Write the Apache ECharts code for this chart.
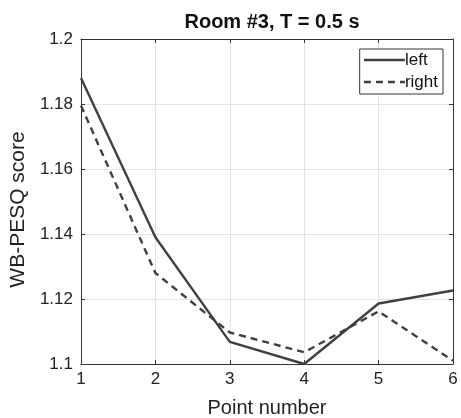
<!DOCTYPE html>
<html>
<head>
<meta charset="utf-8">
<script src="https://cdn.jsdelivr.net/npm/echarts@6/dist/echarts.min.js"></script>
<style>
  html, body { margin: 0; padding: 0; background: #fff; }
  #chart { width: 461px; height: 418px; }
</style>
</head>
<body>
<div id="chart"></div>
<script>
// WB-PESQ scores at each measurement point, room #3
const points = [1, 2, 3, 4, 5, 6];
const leftScores = [1.188, 1.139, 1.1068, 1.1, 1.1186, 1.1226];
const rightScores = [1.1795, 1.128, 1.1097, 1.1036, 1.1162, 1.101];
const seriesNames = ['left', 'right'];

const font = 'Liberation Sans, Arial, sans-serif';
const lineColor = '#404040';
const fmt = v => String(parseFloat(v.toFixed(2)));

const chart = echarts.init(document.getElementById('chart'));
chart.setOption({
  animation: false,
  backgroundColor: '#fff',
  title: {
    text: 'Room #3, T = 0.5 s',
    left: 267, top: 7, textAlign: 'center',
    textStyle: { fontFamily: font, fontSize: 20, fontWeight: 'bold', color: '#111' }
  },
  legend: {
    right: 18, top: 49, orient: 'vertical',
    itemWidth: 41, itemHeight: 20, itemGap: 2,
    padding: [1, 5, 2, 3],
    borderColor: '#333', borderWidth: 1, backgroundColor: '#fff',
    itemStyle: { opacity: 0 },
    lineStyle: { width: 2.5 },
    textStyle: { fontFamily: font, fontSize: 17, color: '#111', lineHeight: 20, padding: [0, 0, 0, -5] },
    data: seriesNames
  },
  grid: { left: 81, right: 8, top: 39, bottom: 54, outerBoundsMode: 'none', containLabel: false },
  xAxis: [{
    type: 'value', min: 1, max: 6, interval: 1,
    name: 'Point number', nameLocation: 'middle', nameGap: 34,
    nameTextStyle: { fontFamily: font, fontSize: 20, color: '#222' },
    axisLine: { lineStyle: { color: '#333' } },
    axisTick: { inside: true, length: 4, lineStyle: { color: '#333' } },
    axisLabel: { fontFamily: font, fontSize: 17, color: '#222', margin: 7 },
    splitLine: { lineStyle: { color: '#e3e3e3' } }
  }, {
    type: 'value', min: 1, max: 6, interval: 1, position: 'top',
    axisLine: { show: true, lineStyle: { color: '#333' } },
    axisTick: { show: true, inside: true, length: 4, lineStyle: { color: '#333' } },
    axisLabel: { show: false }, splitLine: { show: false }
  }],
  yAxis: [{
    type: 'value', min: 1.1, max: 1.2, interval: 0.02,
    name: 'WB-PESQ score', nameLocation: 'middle', nameGap: 50,
    nameTextStyle: { fontFamily: font, fontSize: 21, color: '#222', padding: [0, 16, 0, 0] },
    axisLine: { show: true, lineStyle: { color: '#333' } },
    axisTick: { show: true, inside: true, length: 4, lineStyle: { color: '#333' } },
    axisLabel: { fontFamily: font, fontSize: 17, color: '#222', margin: 8, formatter: fmt },
    splitLine: { lineStyle: { color: '#e3e3e3' } }
  }, {
    type: 'value', min: 1.1, max: 1.2, interval: 0.02, position: 'right',
    axisLine: { show: true, lineStyle: { color: '#333' } },
    axisTick: { show: true, inside: true, length: 4, lineStyle: { color: '#333' } },
    axisLabel: { show: false }, splitLine: { show: false }
  }],
  series: [{
    name: seriesNames[0], type: 'line', showSymbol: false, symbol: 'none',
    data: points.map((p, i) => [p, leftScores[i]]),
    lineStyle: { color: lineColor, width: 2.4, type: 'solid' },
    itemStyle: { color: lineColor }
  }, {
    name: seriesNames[1], type: 'line', showSymbol: false, symbol: 'none',
    data: points.map((p, i) => [p, rightScores[i]]),
    lineStyle: { color: lineColor, width: 2.4, type: [7, 5] },
    itemStyle: { color: lineColor }
  }]
});
</script>
</body>
</html>
